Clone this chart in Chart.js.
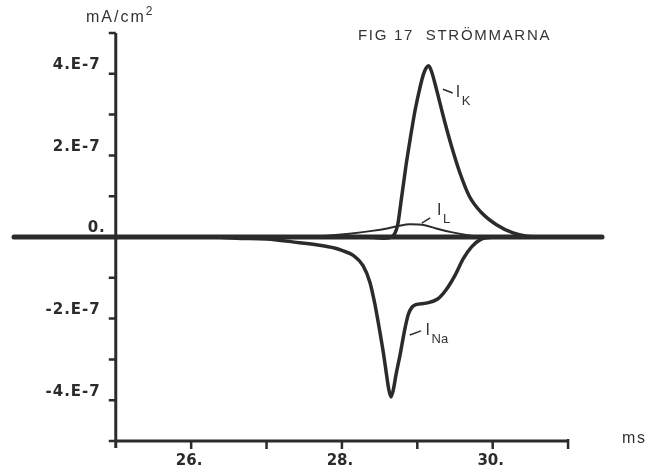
<!DOCTYPE html>
<html>
<head>
<meta charset="utf-8">
<script src="https://cdn.jsdelivr.net/npm/chart.js@4"></script>
<style>
  html, body { margin: 0; padding: 0; background: #fff; }
  canvas { display: block; }
</style>
</head>
<body>
<canvas id="chart" width="660" height="472"></canvas>
<script>
// tid i ms, ström i enheter av 1E-7 mA/cm2
const kTime   = [23.65, 28.3, 28.55, 28.63, 28.7, 28.74, 28.79, 28.85, 28.91, 28.97, 29.03, 29.08, 29.12, 29.15, 29.19, 29.25, 29.36, 29.45, 29.56, 29.69, 29.85, 30.05, 30.27, 30.45, 30.65, 31.45];
const kValues = [0, 0, -0.03, -0.02, 0.08, 0.3, 0.95, 1.75, 2.45, 3.1, 3.62, 3.98, 4.15, 4.2, 4.05, 3.65, 2.85, 2.25, 1.6, 1.0, 0.6, 0.3, 0.1, 0.02, 0, 0];

const naTime   = [23.65, 26.3, 26.6, 27.0, 27.44, 27.7, 27.9, 28.0, 28.15, 28.28, 28.37, 28.43, 28.49, 28.55, 28.59, 28.62, 28.65, 28.68, 28.72, 28.77, 28.83, 28.88, 28.93, 28.98, 29.12, 29.27, 29.38, 29.5, 29.61, 29.72, 29.83, 29.92, 30.1, 31.45];
const naValues = [0, 0, -0.03, -0.05, -0.14, -0.2, -0.27, -0.33, -0.45, -0.7, -1.1, -1.58, -2.18, -2.84, -3.35, -3.72, -3.92, -3.76, -3.35, -2.9, -2.3, -1.9, -1.72, -1.66, -1.62, -1.52, -1.3, -0.94, -0.53, -0.24, -0.07, -0.02, 0, 0];

const lTime   = [23.65, 27.5, 27.8, 28.1, 28.4, 28.6, 28.75, 28.9, 29.1, 29.25, 29.45, 29.65, 29.87, 30.1, 30.4, 31.45];
const lValues = [0, 0, 0.03, 0.08, 0.15, 0.21, 0.27, 0.31, 0.29, 0.21, 0.12, 0.05, 0, -0.02, 0, 0];

const yTickValues = [4, 2, 0, -2, -4];
const yTickLabels = ['4.E-7', '2.E-7', '0.', '-2.E-7', '-4.E-7'];
const xTickValues = [26, 28, 30];
const xTickLabels = ['26.', '28.', '30.'];

// etiketter vid kurvorna
const curveLabels = [
  { text: 'I', sub: 'K',  t: 29.51, v: 3.55, from: [29.34, 3.62], to: [29.47, 3.53] },
  { text: 'I', sub: 'L',  t: 29.26, v: 0.64, from: [29.06, 0.34], to: [29.17, 0.47] },
  { text: 'I', sub: 'Na', t: 29.11, v: -2.3, from: [28.9, -2.4],  to: [29.05, -2.3] }
];

const ink = '#2b2b2b';

function toPoints(ts, vs) {
  return ts.map((t, i) => ({ x: t, y: vs[i] }));
}

const plotterAxes = {
  id: 'plotterAxes',
  beforeDatasetsDraw(chart) {
    const { ctx, chartArea, scales: { y } } = chart;
    // nollinjen
    ctx.save();
    ctx.strokeStyle = ink;
    ctx.lineWidth = 5;
    ctx.lineCap = 'round';
    ctx.beginPath();
    ctx.moveTo(chartArea.left, y.getPixelForValue(0));
    ctx.lineTo(chartArea.right, y.getPixelForValue(0));
    ctx.stroke();
    ctx.restore();
  },
  afterDatasetsDraw(chart) {
    const { ctx, scales: { x, y } } = chart;
    const x0 = x.getPixelForValue(25);
    const x1 = x.getPixelForValue(31);
    const yTop = y.getPixelForValue(5);
    const yBot = y.getPixelForValue(-5);

    ctx.save();
    ctx.strokeStyle = ink;
    ctx.fillStyle = ink;
    ctx.lineWidth = 3;
    ctx.lineCap = 'butt';

    // axlar
    ctx.beginPath();
    ctx.moveTo(x0, yTop);
    ctx.lineTo(x0, yBot + 7);
    ctx.moveTo(x0, yBot);
    ctx.lineTo(x1, yBot);
    ctx.stroke();

    // skalstreck
    ctx.lineWidth = 2.5;
    ctx.beginPath();
    for (let v = -5; v <= 5; v++) {
      const py = y.getPixelForValue(v);
      ctx.moveTo(x0 - 7, py);
      ctx.lineTo(x0, py);
    }
    for (let t = 26; t <= 31; t++) {
      const px = x.getPixelForValue(t);
      ctx.moveTo(px, yBot - (t === 31 ? 2 : 0));
      ctx.lineTo(px, yBot + 8);
    }
    ctx.stroke();

    // y-etiketter
    ctx.font = 'bold 15px "DejaVu Sans"';
    ctx.letterSpacing = '1px';
    ctx.textAlign = 'right';
    ctx.textBaseline = 'bottom';
    yTickValues.forEach((v, i) => {
      const py = y.getPixelForValue(v);
      const dx = v === 0 ? 10 : 15;
      ctx.fillText(yTickLabels[i], x0 - dx, py - 1);
    });

    // x-etiketter
    ctx.letterSpacing = '0px';
    ctx.textAlign = 'center';
    ctx.textBaseline = 'middle';
    xTickValues.forEach((t, i) => {
      ctx.fillText(xTickLabels[i], x.getPixelForValue(t) - 2, yBot + 20);
    });

    // enheter och rubrik
    ctx.fillStyle = '#333';
    ctx.font = '16px "Liberation Sans"';
    ctx.letterSpacing = '1.5px';
    ctx.textAlign = 'left';
    ctx.fillText('ms', x1 + 54, yBot - 2);
    ctx.letterSpacing = '2px';
    ctx.fillText('mA/cm', 86, 18);
    const w = ctx.measureText('mA/cm').width;
    ctx.font = '12px "Liberation Sans"';
    ctx.fillText('2', 86 + w, 12);

    ctx.font = '15px "Liberation Sans"';
    ctx.letterSpacing = '1.7px';
    ctx.fillText('FIG 17  STRÖMMARNA', 358, 36);

    // kurvetiketter
    ctx.letterSpacing = '0px';
    ctx.lineWidth = 1.5;
    curveLabels.forEach(l => {
      ctx.beginPath();
      ctx.moveTo(x.getPixelForValue(l.from[0]), y.getPixelForValue(l.from[1]));
      ctx.lineTo(x.getPixelForValue(l.to[0]), y.getPixelForValue(l.to[1]));
      ctx.stroke();
      const px = x.getPixelForValue(l.t);
      const py = y.getPixelForValue(l.v);
      ctx.font = '16px "Liberation Sans"';
      ctx.fillText(l.text, px, py);
      ctx.font = '13px "Liberation Sans"';
      ctx.fillText(l.sub, px + 6, py + 9);
    });

    ctx.restore();
  }
};

const ctx = document.getElementById('chart').getContext('2d');
new Chart(ctx, {
  type: 'line',
  data: {
    datasets: [
      {
        label: 'I_K',
        data: toPoints(kTime, kValues),
        borderColor: ink,
        borderWidth: 3.5,
        pointRadius: 0,
        cubicInterpolationMode: 'monotone',
        fill: false
      },
      {
        label: 'I_Na',
        data: toPoints(naTime, naValues),
        borderColor: ink,
        borderWidth: 3.5,
        pointRadius: 0,
        cubicInterpolationMode: 'monotone',
        fill: false
      },
      {
        label: 'I_L',
        data: toPoints(lTime, lValues),
        borderColor: ink,
        borderWidth: 2,
        pointRadius: 0,
        cubicInterpolationMode: 'monotone',
        fill: false
      }
    ]
  },
  options: {
    responsive: false,
    animation: false,
    layout: { padding: { left: 14, right: 58, top: 33, bottom: 31 } },
    plugins: {
      legend: { display: false },
      tooltip: { enabled: false }
    },
    scales: {
      x: { type: 'linear', min: 23.65, max: 31.45, display: false },
      y: { type: 'linear', min: -5, max: 5, display: false }
    }
  },
  plugins: [plotterAxes]
});
</script>
</body>
</html>
